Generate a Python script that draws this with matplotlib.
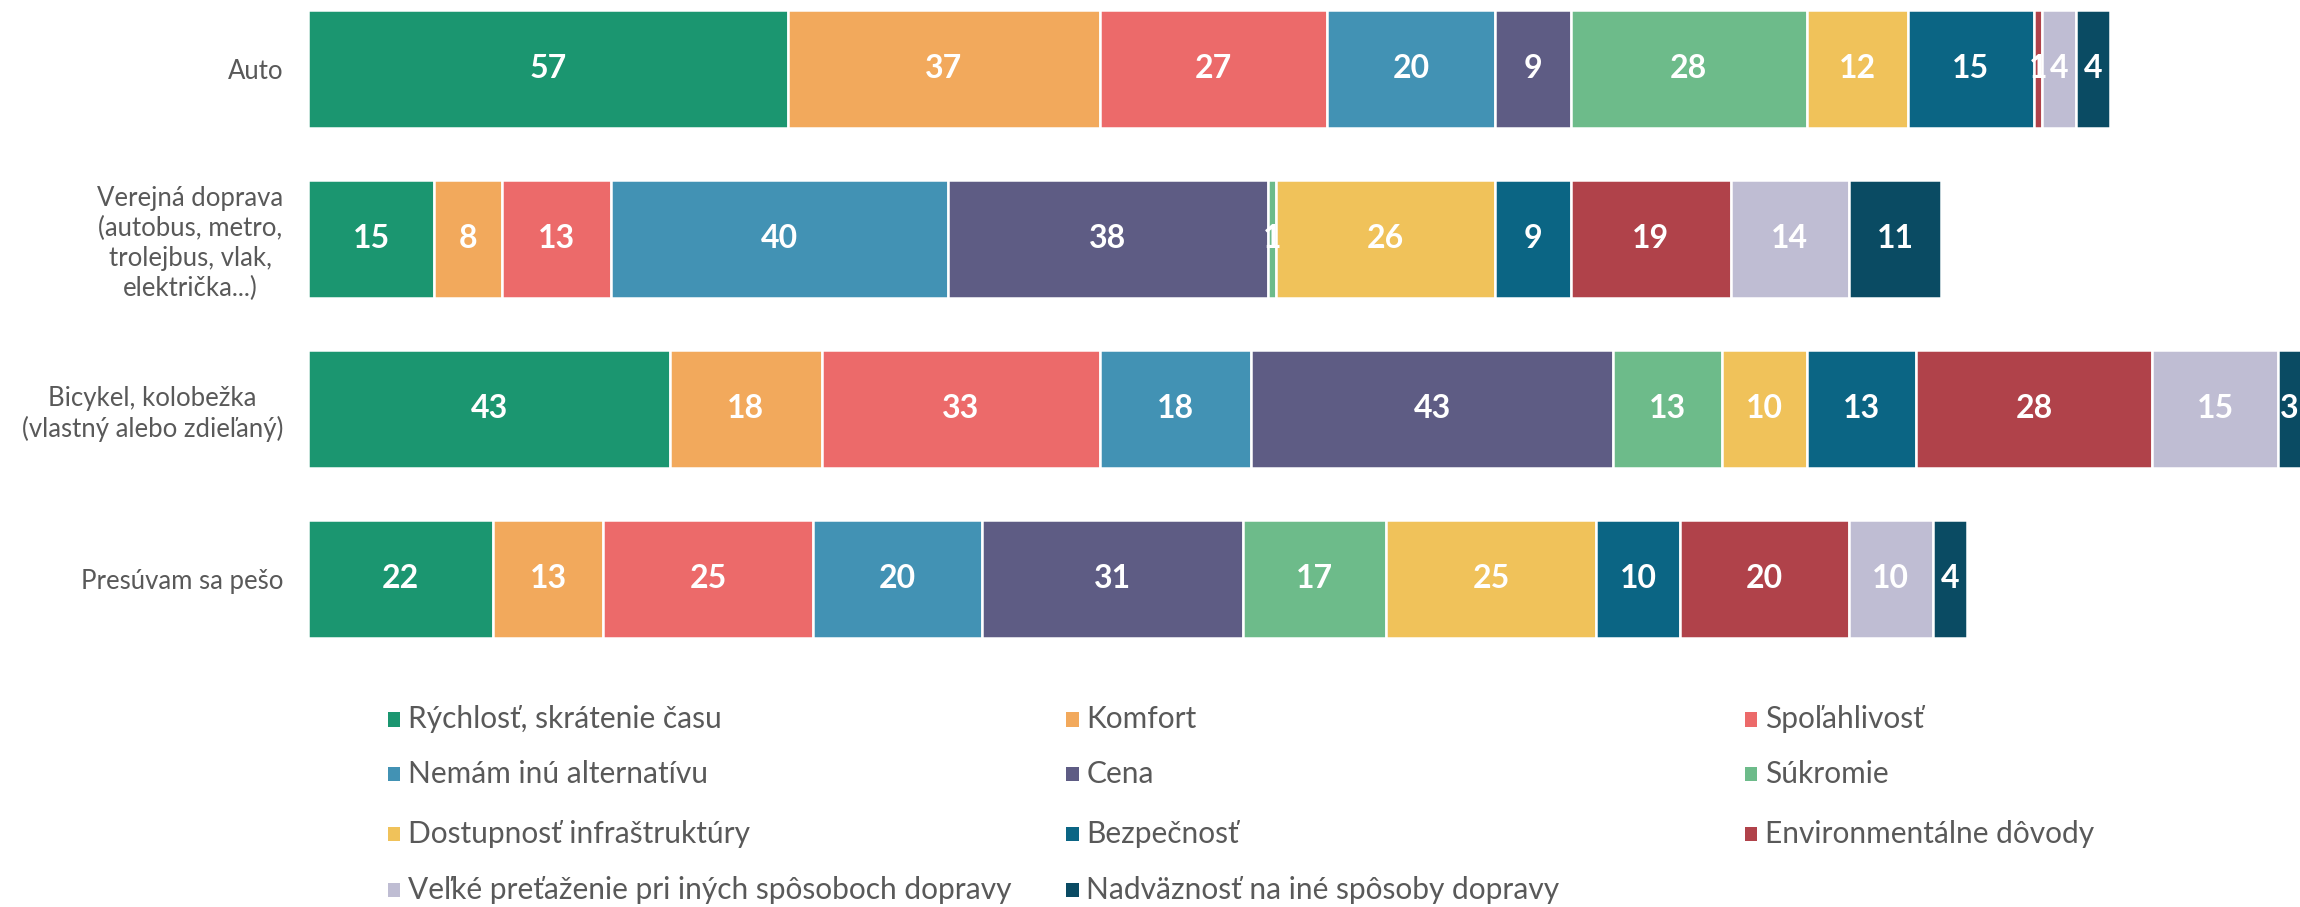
import matplotlib
matplotlib.use("Agg")
import matplotlib.pyplot as plt
from matplotlib.patches import Rectangle
import numpy as np

plt.rcParams['font.family'] = ['Lato', 'DejaVu Sans']

categories = [
    "Auto",
    "Verejná doprava\n(autobus, metro,\ntrolejbus, vlak,\nelektrička...)",
    "Bicykel, kolobežka\n(vlastný alebo zdieľaný)",
    "Presúvam sa pešo",
]

series_names = [
    "Rýchlosť, skrátenie času",
    "Komfort",
    "Spoľahlivosť",
    "Nemám inú alternatívu",
    "Cena",
    "Súkromie",
    "Dostupnosť infraštruktúry",
    "Bezpečnosť",
    "Environmentálne dôvody",
    "Veľké preťaženie pri iných spôsoboch dopravy",
    "Nadväznosť na iné spôsoby dopravy",
]

rychlost = [57, 15, 43, 22]
komfort = [37, 8, 18, 13]
spolahlivost = [27, 13, 33, 25]
nemam_alt = [20, 40, 18, 20]
cena = [9, 38, 43, 31]
sukromie = [28, 1, 13, 17]
dostupnost = [12, 26, 10, 25]
bezpecnost = [15, 9, 13, 10]
environment = [1, 19, 28, 20]
pretazenie = [4, 14, 15, 10]
nadvaznost = [4, 11, 3, 4]

series_values = [rychlost, komfort, spolahlivost, nemam_alt, cena, sukromie,
                 dostupnost, bezpecnost, environment, pretazenie, nadvaznost]

colors = ["#1B9670", "#F2A95C", "#EC6A6A", "#4292B4", "#5E5C84", "#6DBB8A",
          "#F0C25A", "#0B6584", "#B0424A", "#BFBDD3", "#0A4B63"]

fig = plt.figure(figsize=(23, 9.07), dpi=100)
ax = fig.add_axes([0.134, 0.268, 0.866, 0.732])

y = np.arange(len(categories))
left = np.zeros(len(categories))
for name, vals, col in zip(series_names, series_values, colors):
    vals = np.array(vals, dtype=float)
    bars = ax.barh(y, vals, left=left, height=0.69, color=col,
                   edgecolor="white", linewidth=1.8, label=name)
    labels = [str(int(v)) if v > 0 else "" for v in vals]
    ax.bar_label(bars, labels=labels, label_type="center", color="white",
                 fontsize=23, fontweight="bold")
    left += vals

ax.set_xlim(0, 236.6)
ax.set_ylim(len(categories) - 0.5, -0.405)
ax.set_yticks(y)
ax.set_yticklabels(categories, fontsize=18.5, color="#595959",
                   multialignment="center", linespacing=1.25)
ax.tick_params(axis="y", length=0, pad=18)
ax.set_xticks([])
for s in ax.spines.values():
    s.set_visible(False)

# legend laid out row-wise in 3 columns
col_x = [0.1685, 0.4635, 0.7585]
row_y = [0.207, 0.147, 0.081, 0.019]
for i, (name, col) in enumerate(zip(series_names, colors)):
    r, c = divmod(i, 3)
    fig.patches.append(Rectangle((col_x[c], row_y[r] - 0.0085), 0.0056, 0.016,
                                 transform=fig.transFigure, facecolor=col,
                                 edgecolor="none"))
    fig.text(col_x[c] + 0.0088, row_y[r], name, fontsize=21.5, color="#595959",
             va="center", ha="left")

fig.savefig("out.png", dpi=100)
